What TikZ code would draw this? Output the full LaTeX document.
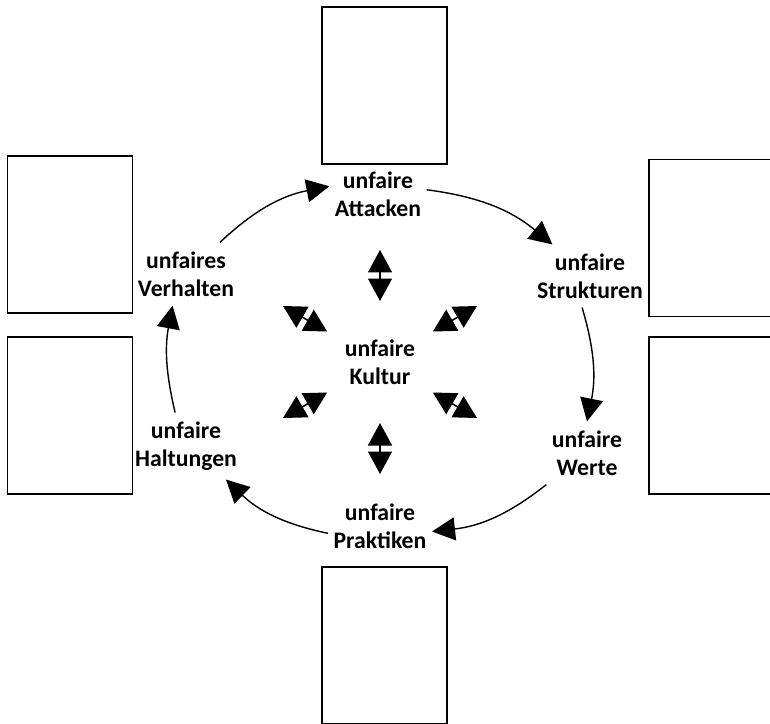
\documentclass[tikz,border=0pt]{standalone}
\usepackage{fontspec}
\setmainfont{Carlito}
\usetikzlibrary{arrows.meta}

\begin{document}
\begin{tikzpicture}[x=0.02cm, y=-0.02cm,
        box/.style={draw=black, line width=1pt, minimum width=2.5cm, minimum height=3.14cm, inner sep=0pt},
        lbl/.style={font=\bfseries\fontsize{13.5}{16}\selectfont, align=center, inner xsep=3pt, inner ysep=5pt},
        cyc/.style={-{Triangle[length=0.46cm, width=0.46cm]}, line width=0.8pt},
        dbl/.style={{Triangle[length=0.45cm, width=0.48cm]}-{Triangle[length=0.45cm, width=0.48cm]}, line width=0.9pt}]
    \useasboundingbox (0, 0) rectangle (770, 723);

    \node[box] (boxtop) at (384.5, 85.5) {};
    \node[box] (boxbot) at (384.5, 645.5) {};
    \node[box] (boxtl) at (70, 234.5) {};
    \node[box] (boxbl) at (70, 415.5) {};
    \node[box] (boxtr) at (711.5, 238) {};
    \node[box] (boxbr) at (711.5, 415.5) {};

    \node[lbl] (att) at (378, 194) {unfaire\\Attacken};
    \node[lbl] (str) at (590, 276) {unfaire\\Strukturen};
    \node[lbl] (wer) at (587, 453) {unfaire\\Werte};
    \node[lbl] (pra) at (380, 526) {unfaire\\Praktiken};
    \node[lbl] (hal) at (186, 446) {unfaire\\Haltungen};
    \node[lbl] (ver) at (186, 274) {unfaires\\Verhalten};
    \node[lbl] (kul) at (380, 362) {unfaire\\Kultur};

    \draw[cyc] (ver.43) to[bend left=16] (att.171);
    \draw[cyc] (att.5) to[bend left=16] (str.140);
    \draw[cyc] (str.256) to[bend left=14] (wer.north);
    \draw[cyc] (wer.south west) to[bend left=16] (pra.354);
    \draw[cyc] (pra.188) to[bend left=16] (hal.320);
    \draw[cyc] (hal.108) to[bend left=12] (ver.247);

    \foreach \a in {30, 90, ..., 330} {
        \path (kul) ++(\a:61) coordinate (in\a) ++(\a:51) coordinate (out\a);
        \draw[dbl] (in\a) -- (out\a);
    }
\end{tikzpicture}
\end{document}
